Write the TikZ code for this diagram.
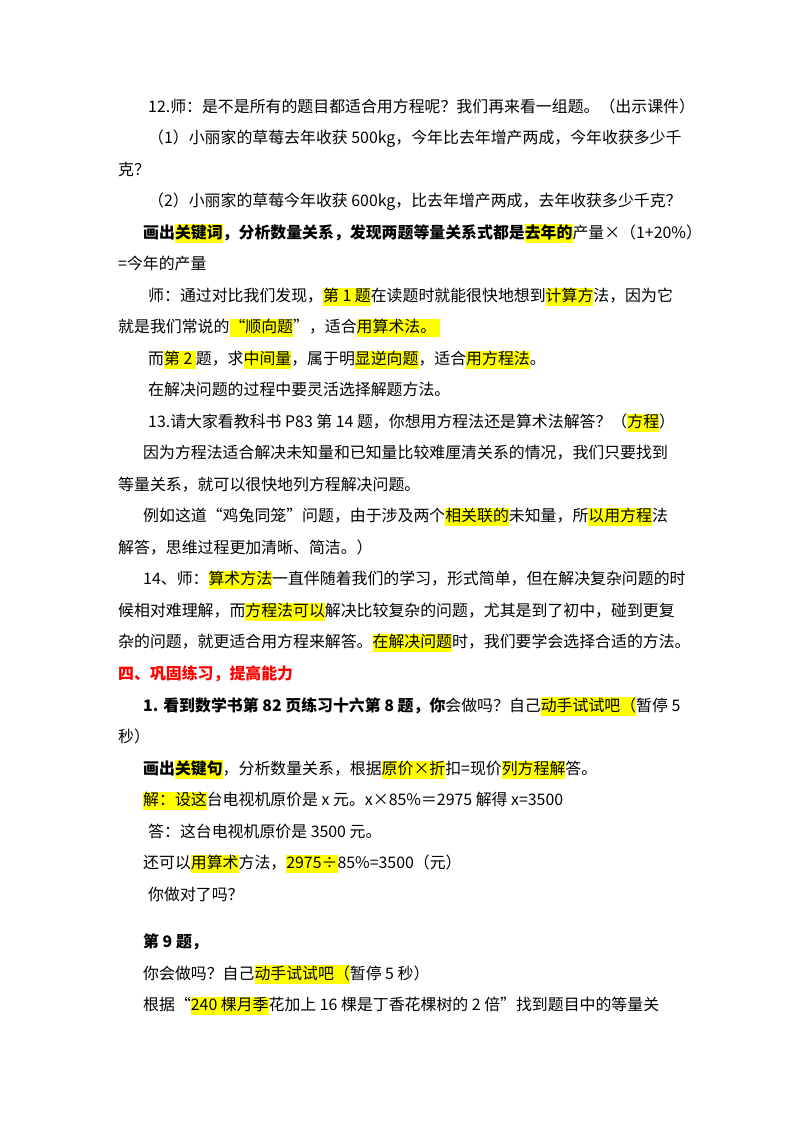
\documentclass[tikz,border=0pt]{standalone}
\usepackage{fontspec}
\setmainfont{Noto Sans CJK SC}
\definecolor{hlyellow}{RGB}{255,255,0}
\definecolor{headred}{RGB}{255,0,0}
\newcommand\hlt[1]{{\setlength\fboxsep{0pt}\colorbox{hlyellow}{\vrule height 13pt depth 4.5pt width 0pt #1}}}
\tikzset{ln/.style={anchor=base west,inner sep=0pt,font=\fontsize{15.9pt}{18pt}\selectfont}}
\newcommand\Ln[4]{\node[ln] (#1) at (#2pt,-#3pt) {#4};}
\begin{document}
\begin{tikzpicture}
\useasboundingbox (0,0) rectangle (800pt,-1132pt);
\fill[white] (0,0) rectangle (800pt,-1132pt);
\Ln{l1}{148}{112}{12.师：是不是所有的题目都适合用方程呢？我们再来看一组题。（出示课件）}
\Ln{l2}{148}{143}{（1）小丽家的草莓去年收获 500kg，今年比去年增产两成，今年收获多少千}
\Ln{l3}{118}{175}{克？}
\Ln{l4}{148}{206}{（2）小丽家的草莓今年收获 600kg，比去年增产两成，去年收获多少千克？}
\Ln{l5}{143}{238}{\textbf{画出\hlt{关键词}，分析数量关系，发现两题等量关系式都是\hlt{去年的}}产量×（1+20\%）}
\Ln{l6}{118}{269}{=今年的产量}
\Ln{l7}{148}{301}{师：通过对比我们发现，\hlt{第 1 题}在读题时就能很快地想到\hlt{计算方}法，因为它}
\Ln{l8}{118}{332}{就是我们常说的\hlt{“顺向题}”，适合\hlt{用算术法。\ }}
\Ln{l9}{148}{364}{而\hlt{第 2 }题，求\hlt{中间量}，属于明\hlt{显逆向题}，适合\hlt{用方程法}。}
\Ln{l10}{148}{395}{在解决问题的过程中要灵活选择解题方法。}
\Ln{l11}{148}{427}{13.请大家看教科书 P83 第 14 题，你想用方程法还是算术法解答？（\hlt{方程}）}
\Ln{l12}{143}{458}{因为方程法适合解决未知量和已知量比较难厘清关系的情况，我们只要找到}
\Ln{l13}{118}{490}{等量关系，就可以很快地列方程解决问题。}
\Ln{l14}{143}{521}{例如这道“鸡兔同笼”问题，由于涉及两个\hlt{相关联的}未知量，所\hlt{以用方程}法}
\Ln{l15}{118}{553}{解答，思维过程更加清晰、简洁。）}
\Ln{l16}{143}{584}{14、师：\hlt{算术方法}一直伴随着我们的学习，形式简单，但在解决复杂问题的时}
\Ln{l17}{118}{616}{候相对难理解，而\hlt{方程法可以}解决比较复杂的问题，尤其是到了初中，碰到更复}
\Ln{l18}{118}{647}{杂的问题，就更适合用方程来解答。\hlt{在解决问题}时，我们要学会选择合适的方法。}
\Ln{l19}{118}{679}{\textcolor{headred}{\textbf{四、巩固练习，提高能力}}}
\Ln{l20}{143}{711}{\textbf{1. 看到数学书第 82 页练习十六第 8 题，你}会做吗？自己\hlt{动手试试吧（}暂停 5}
\Ln{l21}{118}{742}{秒）}
\Ln{l22}{143}{774}{\textbf{画出\hlt{关键句}}，分析数量关系，根据\hlt{原价×折}扣=现价\hlt{列方程解}答。}
\Ln{l23}{143}{805}{\hlt{解：设这}台电视机原价是 x 元。x×85\%＝2975 解得 x=3500}
\Ln{l24}{148}{837}{答：这台电视机原价是 3500 元。}
\Ln{l25}{143}{868}{还可以\hlt{用算术}方法，\hlt{2975÷}85\%=3500（元）}
\Ln{l26}{148}{900}{你做对了吗？}
\Ln{l27}{143}{947}{\textbf{第 9 题，}}
\Ln{l28}{143}{979}{你会做吗？自己\hlt{动手试试吧（}暂停 5 秒）}
\Ln{l29}{143}{1010}{根据“\hlt{240 棵月季}花加上 16 棵是丁香花棵树的 2 倍”找到题目中的等量关}
\end{tikzpicture}
\end{document}
